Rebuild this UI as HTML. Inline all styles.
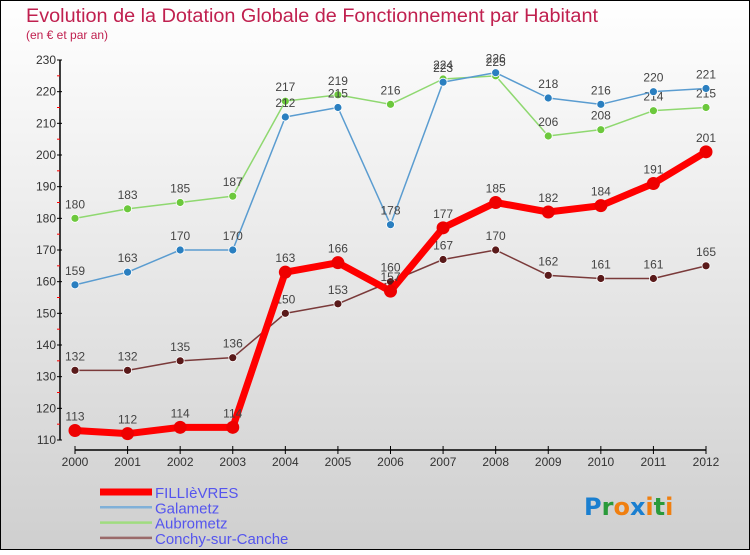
<!DOCTYPE html>
<html><head><meta charset="utf-8"><style>
html,body{margin:0;padding:0}
body{width:750px;height:550px;overflow:hidden;font-family:"Liberation Sans",sans-serif}
</style></head><body>
<svg id="chart" width="750" height="550" xmlns="http://www.w3.org/2000/svg">
<defs><linearGradient id="bg" x1="0" y1="0" x2="0" y2="1"><stop offset="0" stop-color="#ffffff"/><stop offset="1" stop-color="#cfcfcf"/></linearGradient></defs>
<rect x="0.5" y="0.5" width="749" height="549" fill="url(#bg)" stroke="#000"/>
<text x="26" y="22" font-size="19" fill="#c0204f" textLength="572" lengthAdjust="spacingAndGlyphs">Evolution de la Dotation Globale de Fonctionnement par Habitant</text>
<text x="26" y="39" font-size="12" fill="#c0204f">(en € et par an)</text>
<g id="axes"></g>
<g id="series"></g>
<g id="legend"></g>
<text x="584" y="515" font-size="24" font-weight="bold" font-family="'DejaVu Sans',sans-serif"><tspan fill="#1a7fd0">P</tspan><tspan fill="#2a9a3a">r</tspan><tspan fill="#f07f10">o</tspan><tspan fill="#1a7fd0">x</tspan><tspan fill="#f07f10">i</tspan><tspan fill="#2a9a3a">t</tspan><tspan fill="#f07f10">i</tspan></text>
</svg>
<script>
const years=[2000,2001,2002,2003,2004,2005,2006,2007,2008,2009,2010,2011,2012];
const fillievres=[113,112,114,114,163,166,157,177,185,182,184,191,201];
const galametz=[159,163,170,170,212,215,178,223,226,218,216,220,221];
const aubrometz=[180,183,185,187,217,219,216,224,225,206,208,214,215];
const conchy=[132,132,135,136,150,153,160,167,170,162,161,161,165];
const yTicks=[110,120,130,140,150,160,170,180,190,200,210,220,230];
const NS='http://www.w3.org/2000/svg';
const x=i=>75+i*(706-75)/(years.length-1);
const y=v=>440-(v-110)*(380/120);
function mk(tag,attrs,parent){const e=document.createElementNS(NS,tag);for(const k in attrs)e.setAttribute(k,attrs[k]);parent.appendChild(e);return e;}
const axes=document.getElementById('axes');
let ya=mk('line',{x1:60,y1:60,x2:60,y2:440,stroke:'#000','stroke-width':1.5},axes);


yTicks.forEach(v=>{
  mk('line',{x1:57,x2:62,y1:y(v),y2:y(v),stroke:'#000'},axes);
  if(v<230)mk('line',{x1:57,x2:60,y1:y(v+5),y2:y(v+5),stroke:'#f00'},axes);
  const t=mk('text',{x:56,y:y(v)+4,'font-size':12,fill:'#333','text-anchor':'end'},axes);
  
  
  t.textContent=v;
});
let xa=mk('line',{x1:75,y1:450,x2:706,y2:450,stroke:'#000','stroke-width':1.5},axes);


years.forEach((yr,i)=>{
  mk('line',{x1:x(i),x2:x(i),y1:446,y2:454,stroke:'#000'},axes);
  const t=mk('text',{x:x(i),y:466,'font-size':12,fill:'#333','text-anchor':'middle'},axes);
  
  
  t.textContent=yr;
});
const sg=document.getElementById('series');
function series(vals,color,dot,w,r,name,lab){
  const g=mk('g',{},sg);
  
  
  mk('polyline',{points:vals.map((v,i)=>x(i)+','+y(v)).join(' '),fill:'none',stroke:color,'stroke-width':w,'stroke-linejoin':'round'},g);
  vals.forEach((v,i)=>{
    const c=mk('circle',{cx:x(i),cy:y(v),r:r,fill:dot,stroke:'#fff','stroke-width':r>5?0:0.8},g);
    
    
    if(lab){const t=mk('text',{x:x(i),y:y(v)-10,'font-size':12,fill:'#444','text-anchor':'middle'},g);
    
    
    t.textContent=v;}
  });
}
series(conchy,'#7a3a3a','#5a1a1a',1.5,4,'conchy-series',true);
series(aubrometz,'#8fd870','#6cc83c',1.5,4,'aubrometz-series',true);
series(galametz,'#5a9cd0','#2a7fc0',1.5,4,'galametz-series',true);
series(fillievres,'#ff0000','#ee0000',7,6.5,'fillievres-series',true);
const lg=document.getElementById('legend');
const names=['FILLIèVRES','Galametz','Aubrometz','Conchy-sur-Canche'];
const cols=['#ff0000','#80b0d8','#a0dc80','#9a6a6a'];
const widths=[7,2.5,2.5,2.5];
names.forEach((n,i)=>{
  const g=mk('g',{},lg);
  
  
  const yy=492+i*15.3;
  mk('line',{x1:100,x2:152,y1:yy,y2:yy,stroke:cols[i],'stroke-width':widths[i]},g);
  const t=mk('text',{x:155,y:yy+6,'font-size':15,fill:'#5555ee'},g);
  t.textContent=n;
});
</script>
</body></html>
